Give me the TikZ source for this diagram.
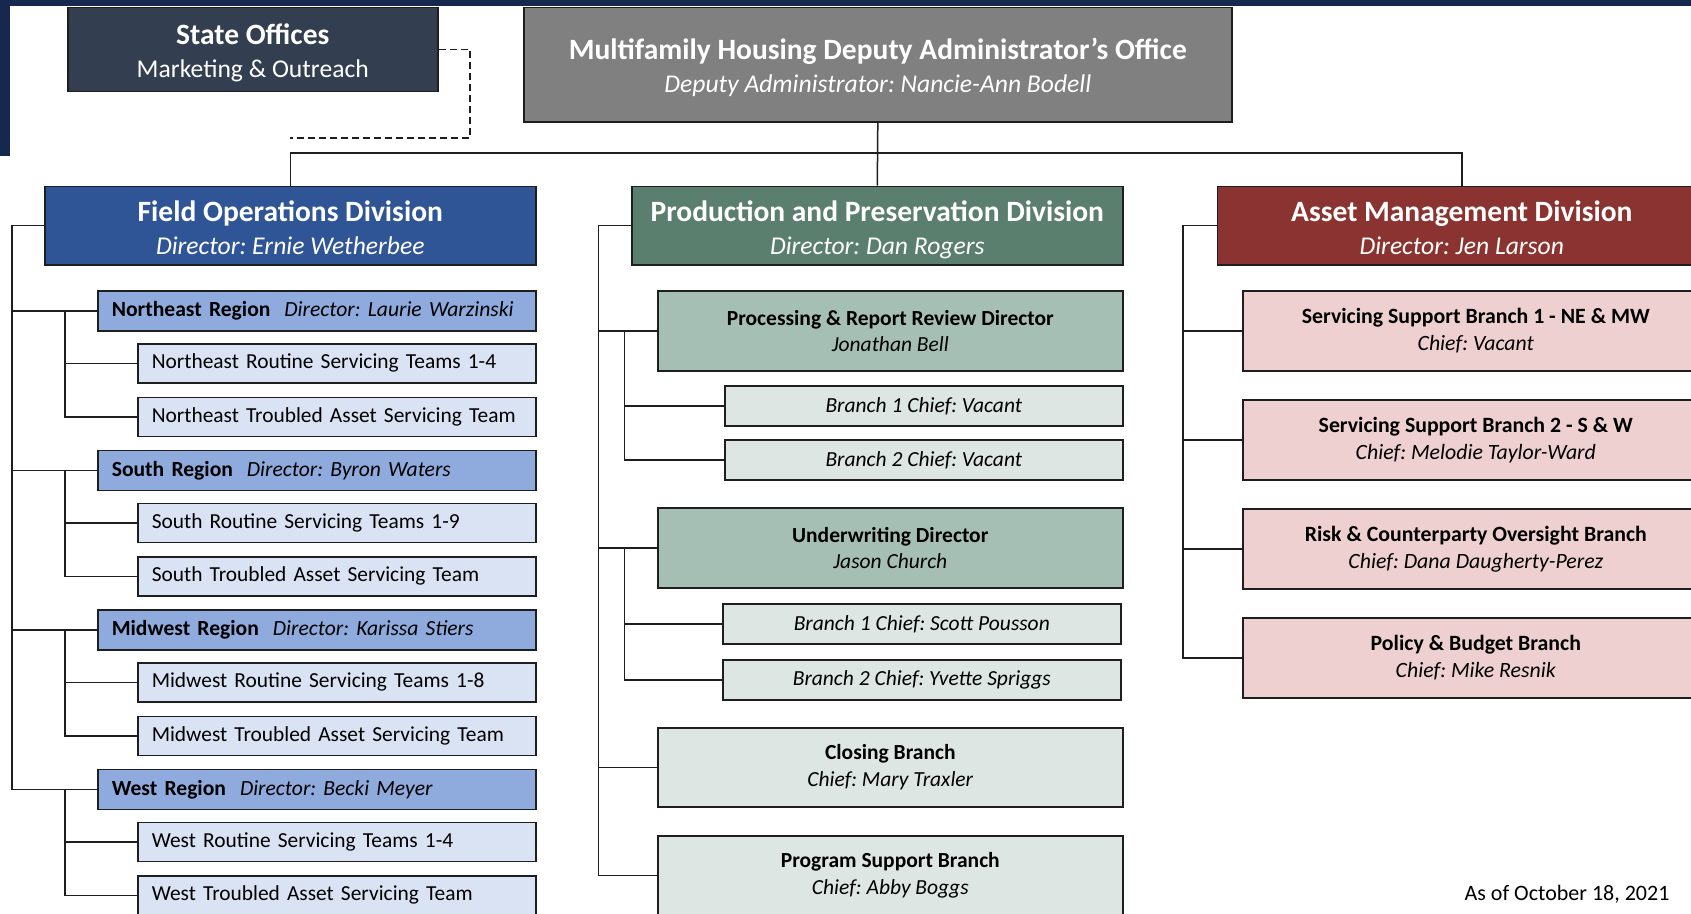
\documentclass[tikz,border=0pt]{standalone}
\usepackage{fontspec}
\setmainfont{Carlito}
\frenchspacing
\definecolor{navy}{HTML}{17284F}
\definecolor{slate}{HTML}{333F50}
\definecolor{depgray}{HTML}{808080}
\definecolor{fieldblue}{HTML}{2F5597}
\definecolor{regblue}{HTML}{8FAADC}
\definecolor{teamblue}{HTML}{DAE3F3}
\definecolor{prodgreen}{HTML}{5B7F6E}
\definecolor{midgreen}{HTML}{A6BFB5}
\definecolor{lightgreen}{HTML}{DDE6E2}
\definecolor{assetred}{HTML}{8B3331}
\definecolor{pinkfill}{HTML}{EFD0D0}
\definecolor{edgecol}{HTML}{1E1E1E}
\tikzset{
  box/.style={draw=edgecol, line width=1.6pt, inner sep=0pt, anchor=north west, align=center},
  bigbox/.style={box, font=\fontsize{29.5}{33}\selectfont},
  midbox/.style={box, font=\fontsize{21.5}{26.5}\selectfont, minimum width=465pt, minimum height=80pt},
  regbox/.style={box, fill=regblue, font=\fontsize{21.6}{26}\selectfont, minimum width=438pt, minimum height=40pt, text width=410pt, inner xsep=14pt, align=left},
  teambox/.style={box, fill=teamblue, font=\fontsize{21.4}{26}\selectfont, minimum width=398pt, minimum height=39pt, text width=370pt, inner xsep=14pt, align=left},
  brbox/.style={box, fill=lightgreen, font=\fontsize{21.5}{26}\selectfont\itshape, minimum width=398pt, minimum height=40pt},
  pinkbox/.style={box, fill=pinkfill, font=\fontsize{21.8}{27}\selectfont, minimum width=466pt, minimum height=80pt},
  conn/.style={draw=edgecol, line width=1.5pt},
  dashconn/.style={conn, dash pattern=on 7pt off 4pt}
}
\newcommand{\subline}{\fontsize{25.6}{33}\selectfont}
\newcommand{\divtext}[2]{\rule{0pt}{28.5pt}\textbf{#1}\\{\subline\itshape #2\vphantom{g}}}
\newcommand{\myregion}[6]{%
  \node[regbox] (#1) at (97,#2) {\mbox{\textbf{#3}\hspace{14pt}\textit{#4}}};
  \node[teambox] (#1r) at (137,{#2+53}) {\mbox{#5}};
  \node[teambox] (#1t) at (137,{#2+106.5}) {\mbox{#6}};
  \draw[conn] (#1.west) -- ++(-85,0);
  \draw[conn] (#1.west) ++(-32,0) |- (#1t.west);
  \draw[conn] (#1r.west) -- ++(-72,0);
}
\begin{document}
\begin{tikzpicture}[x=1pt,y=-1pt]
\clip (0,0) rectangle (1691,913);
\fill[white] (0,0) rectangle (1691,913);
\fill[navy] (0,0) rectangle (1691,6);
\fill[navy] (0,0) rectangle (10,155.5);

% top level
\node[bigbox, fill=slate, text=white, minimum width=370pt, minimum height=84pt] (so) at (67,6.5)
  {\rule{0pt}{27pt}\textbf{State Offices}\\{\subline Marketing \& Outreach}};
\node[bigbox, fill=depgray, text=white, minimum width=708pt, minimum height=114.5pt] (dep) at (523,6.5)
  {\rule{0pt}{27pt}\textbf{Multifamily Housing Deputy Administrator’s Office}\\{\subline\itshape Deputy Administrator: Nancie-Ann Bodell}};

% divisions
\node[bigbox, fill=fieldblue, text=white, minimum width=491pt, minimum height=78.5pt] (fo) at (44,185.5)
  {\divtext{Field Operations Division}{Director: Ernie Wetherbee}};
\node[bigbox, fill=prodgreen, text=white, minimum width=491pt, minimum height=78.5pt] (pp) at (631,185.5)
  {\divtext{Production and Preservation Division}{Director: Dan Rogers}};
\node[bigbox, fill=assetred, text=white, minimum width=489pt, minimum height=78.5pt] (am) at (1216.5,185.5)
  {\divtext{Asset Management Division}{Director: Jen Larson}};

% top connectors
\coordinate (hub) at (877,153);
\draw[conn] (dep.south) -- (pp.north);
\draw[conn] (fo.north) -- (fo.north |- hub) -- (am.north |- hub) -- (am.north);
\coordinate (dk) at (470,138);
\draw[dashconn] (so.east) -| (dk) -- (dk -| fo.north);

% field operations
\myregion{ne}{290}{Northeast Region}{Director: Laurie Warzinski}{Northeast Routine Servicing Teams 1-4}{Northeast Troubled Asset Servicing Team}
\myregion{so2}{449.5}{South Region}{Director: Byron Waters}{South Routine Servicing Teams 1-9}{South Troubled Asset Servicing Team}
\myregion{mw}{609}{Midwest Region}{Director: Karissa Stiers}{Midwest Routine Servicing Teams 1-8}{Midwest Troubled Asset Servicing Team}
\myregion{we}{768.5}{West Region}{Director: Becki Meyer}{West Routine Servicing Teams 1-4}{West Troubled Asset Servicing Team}
\draw[conn] (fo.west) -- ++(-32,0) |- (we.west);

% production and preservation
\node[midbox, fill=midgreen] (proc) at (657,290) {\textbf{Processing \& Report Review Director}\\\textit{Jonathan Bell}};
\node[brbox] (pb1) at (724,385) {Branch 1 Chief: Vacant};
\node[brbox] (pb2) at (724,439) {Branch 2 Chief: Vacant};
\node[midbox, fill=midgreen] (uw) at (657,507) {\textbf{Underwriting Director}\\\textit{Jason Church}};
\node[brbox] (ub1) at (722,603) {Branch 1 Chief: Scott Pousson};
\node[brbox] (ub2) at (722,659) {Branch 2 Chief: Yvette Spriggs};
\node[midbox, fill=lightgreen, minimum height=79pt] (cl) at (657,727) {\textbf{Closing Branch}\\\textit{Chief: Mary Traxler}};
\node[midbox, fill=lightgreen, minimum height=79pt] (ps) at (657,835) {\textbf{Program Support Branch}\\\textit{Chief: Abby Boggs}};
\draw[conn] (pp.west) -- ++(-32.4,0) |- (ps.west);
\draw[conn] (proc.west) -- ++(-58.4,0);
\draw[conn] (uw.west) -- ++(-58.4,0);
\draw[conn] (cl.west) -- ++(-58.4,0);
\draw[conn] (proc.west) ++(-32.5,0) |- (pb2.west);
\draw[conn] (pb1.west) -- ++(-99.5,0);
\draw[conn] (uw.west) ++(-32.5,0) |- (ub2.west);
\draw[conn] (ub1.west) -- ++(-97.5,0);

% asset management
\node[pinkbox] (sb1) at (1242,290) {\textbf{Servicing Support Branch 1 - NE \& MW}\\\textit{Chief: Vacant}};
\node[pinkbox] (sb2) at (1242,399) {\textbf{Servicing Support Branch 2 - S \& W}\\\textit{Chief: Melodie Taylor-Ward}};
\node[pinkbox] (rc) at (1242,508) {\textbf{Risk \& Counterparty Oversight Branch}\\\textit{Chief: Dana Daugherty-Perez}};
\node[pinkbox] (pbb) at (1242,617) {\textbf{Policy \& Budget Branch}\\\textit{Chief: Mike Resnik}};
\draw[conn] (am.west) -- ++(-33.5,0) |- (pbb.west);
\draw[conn] (sb1.west) -- ++(-59,0);
\draw[conn] (sb2.west) -- ++(-59,0);
\draw[conn] (rc.west) -- ++(-59,0);

% footer
\node[font=\fontsize{22}{26}\selectfont, inner sep=0pt] (date) at (1567,894) {As of October 18, 2021};
\end{tikzpicture}
\end{document}
